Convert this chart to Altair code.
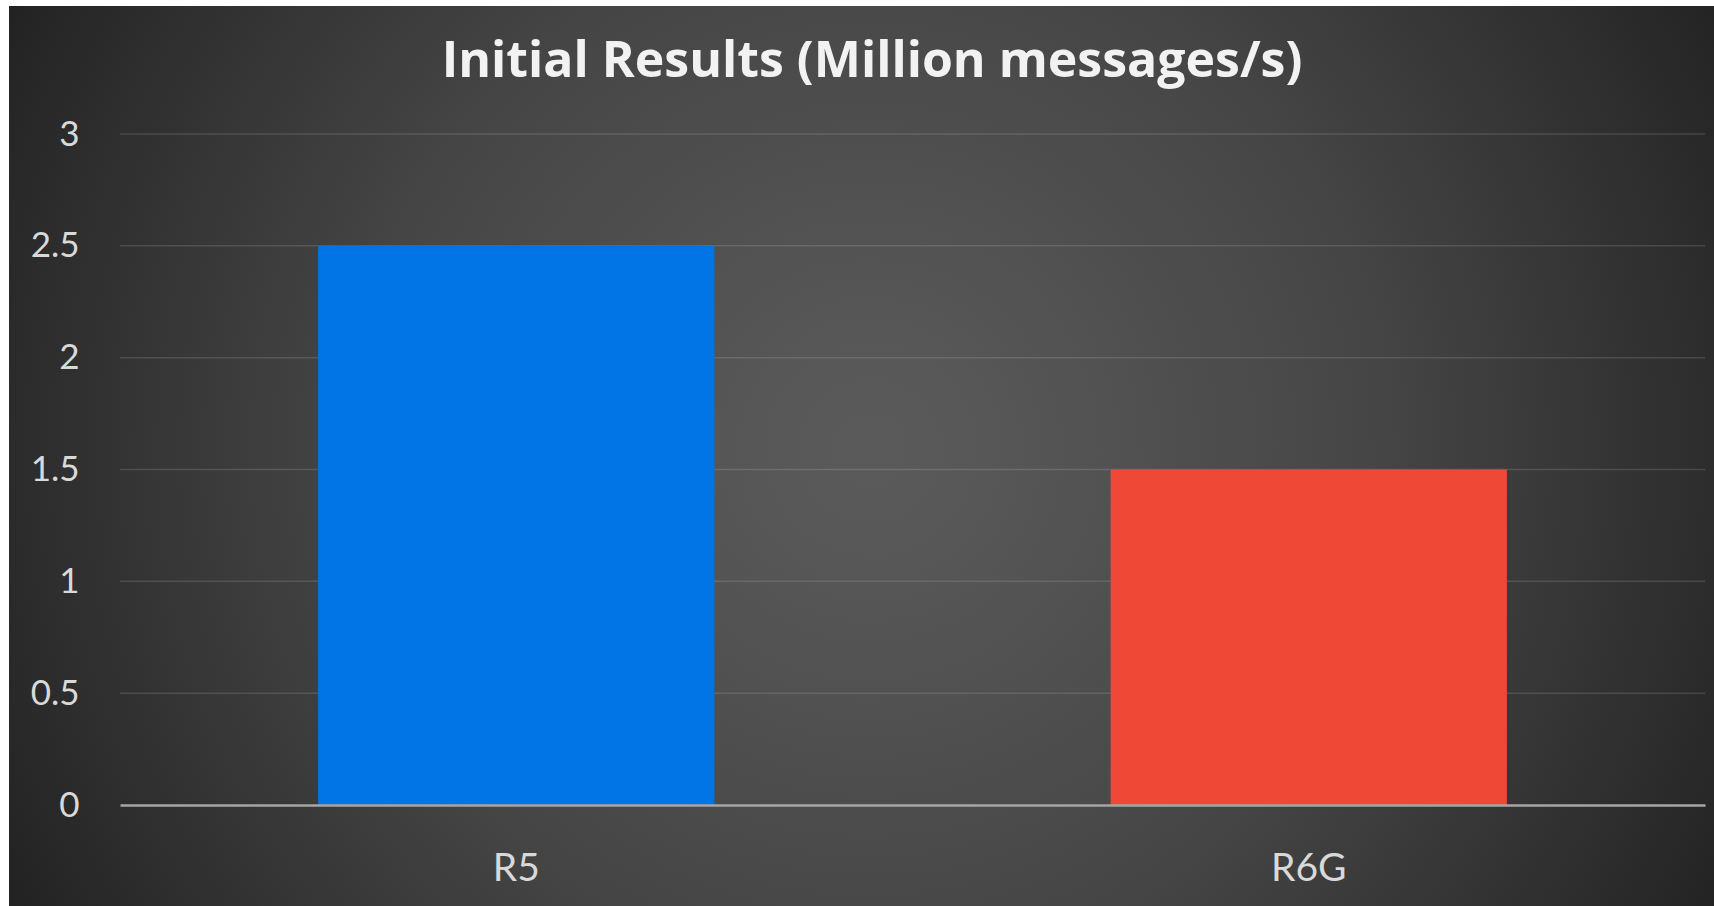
import altair as alt
import pandas as pd

categories = ["R5", "R6G"]
values = [2.5, 1.5]
bar_colors = ["#0275E6", "#EF4836"]
y_ticks = [0.5, 1, 1.5, 2, 2.5, 3]
title_text = "Initial Results (Million messages/s)"

bars_df = pd.DataFrame({"server": categories, "value": values})
grid_df = pd.DataFrame({"tick": y_ticks})
one_df = pd.DataFrame({"k": [0]})
title_df = pd.DataFrame({"t": [title_text]})

W, H = 1585, 671

bg_gradient = {
    "gradient": "radial",
    "x1": 0.5, "y1": 0.5, "r1": 0,
    "x2": 0.5, "y2": 0.5, "r2": 0.5,
    "stops": [
        {"offset": 0.0, "color": "#5a5a5a"},
        {"offset": 0.12, "color": "#575757"},
        {"offset": 0.5, "color": "#464646"},
        {"offset": 0.85, "color": "#2c2c2c"},
        {"offset": 1.0, "color": "#202020"},
    ],
}

background = alt.Chart(one_df).mark_rect(fill=bg_gradient, strokeWidth=0).encode(
    x=alt.value(-250), x2=alt.value(1750), y=alt.value(-684), y2=alt.value(1316)
)
strip_left = alt.Chart(one_df).mark_rect(fill="white").encode(
    x=alt.value(-125), x2=alt.value(-111), y=alt.value(-140), y2=alt.value(H + 110)
)
strip_top = alt.Chart(one_df).mark_rect(fill="white").encode(
    x=alt.value(-125), x2=alt.value(W + 20), y=alt.value(-140), y2=alt.value(-128)
)

title_mark = alt.Chart(title_df).mark_text(
    font="Open Sans", fontSize=50, fontWeight="bold", color="#f2f2f2",
    align="center", baseline="alphabetic",
).encode(text="t:N", x=alt.value(752), y=alt.value(-57))

x_enc = alt.X(
    "server:N",
    sort=categories,
    scale=alt.Scale(paddingInner=0.5, paddingOuter=0.25),
    axis=alt.Axis(
        title=None, labelAngle=0, ticks=False, tickSize=0, labelPadding=44,
        labelFont="Lato", labelFontSize=39, labelColor="#d9d9d9",
        domainColor="#a6a6a6", domainWidth=2.5, grid=False, zindex=1,
    ),
)

grid = alt.Chart(grid_df).mark_rule(color="white", strokeOpacity=0.13, strokeWidth=1.5).encode(
    y=alt.Y("tick:Q", scale=alt.Scale(domain=[0, 3]))
)

bars = alt.Chart(bars_df).mark_bar().encode(
    x=x_enc,
    y=alt.Y(
        "value:Q",
        scale=alt.Scale(domain=[0, 3]),
        axis=alt.Axis(
            title=None, values=[0, 0.5, 1, 1.5, 2, 2.5, 3], format="~g", grid=False, domain=False,
            ticks=False, tickSize=0, labelPadding=41, labelFont="Lato", labelFontSize=35,
            labelColor="#d9d9d9", zindex=1,
        ),
    ),
    color=alt.Color("server:N", scale=alt.Scale(domain=categories, range=bar_colors), legend=None),
)

chart = alt.layer(background, strip_left, strip_top, grid, bars, title_mark).properties(
    width=W,
    height=H,
    padding={"left": 120, "top": 134, "right": 9, "bottom": 101},
    autosize=alt.AutoSizeParams(type="none"),
    background="white",
).configure_view(strokeWidth=0)

chart.save("out.html", embed_options={"renderer": "svg", "actions": False})
